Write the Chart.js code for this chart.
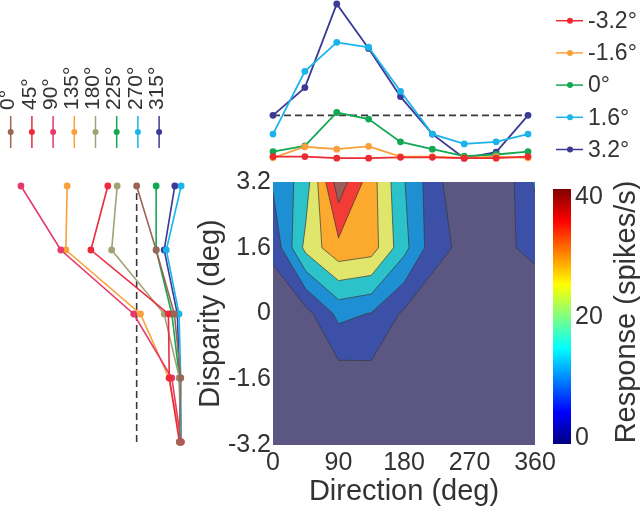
<!DOCTYPE html>
<html>
<head>
<meta charset="utf-8">
<script src="https://cdn.jsdelivr.net/npm/chart.js@4"></script>
<style>
  body { margin: 0; background: #fff; }
  #wrap { position: relative; width: 640px; height: 509px; overflow: hidden; }
  canvas { position: absolute; }
</style>
</head>
<body>
<div id="wrap">
  <canvas id="left" width="195" height="460" style="left:0px;top:0px"></canvas>
  <canvas id="top" width="380" height="170" style="left:260px;top:0px"></canvas>
  <canvas id="map" width="385" height="349" style="left:190px;top:160px"></canvas>
  <canvas id="cbar" width="100" height="300" style="left:540px;top:170px"></canvas>
</div>
<script>
// stimulus grid
const directions = [0, 45, 90, 135, 180, 225, 270, 315, 360];
const disparities = [-3.2, -1.6, 0, 1.6, 3.2];

// response (spikes/s) per disparity, one value per direction (360 repeats 0)
const respDispNeg32 = [0.6, 0.6, 0.2, 0.2, 0.4, 0.4, 0.2, 0.2, 0.6];
const respDispNeg16 = [0.3, 3.0, 2.4, 3.1, 0.6, 0.6, 0.3, 0.6, 0.3];
const respDisp0 = [1.8, 3.2, 11.4, 9.8, 4.2, 2.4, 0.7, 1.1, 1.8];
const respDisp16 = [6.1, 21.5, 28.6, 27.4, 16.6, 6.1, 3.7, 4.2, 6.1];
const respDisp32 = [10.7, 17.5, 38.0, 27.1, 15.3, 6.1, 0.2, 1.7, 10.7];
const responseRows = [respDispNeg32, respDispNeg16, respDisp0, respDisp16, respDisp32];

const spontaneousRate = 10.7;

const dispLabels = ["-3.2°", "-1.6°", "0°", "1.6°", "3.2°"];
const dispColors = ["#ec2a30", "#f9a03a", "#12a853", "#1bb4ea", "#3b3a96"];
const dirLabels = ["0°", "45°", "90°", "135°", "180°", "225°", "270°", "315°"];
const dirColors = ["#9c6452", "#ec2a3c", "#e63a6c", "#f9a03a", "#a3a176", "#12a853", "#1bb4ea", "#3b3a96"];

const contourLevels = [5, 10, 15, 20, 25, 30, 35];
const bandColors = ["#5c5683", "#3b50a6", "#1f8fd3", "#2cc2c9", "#dfe66b", "#fbaa2e", "#f23c35", "#9b5f58"];

const dirTicks = [0, 90, 180, 270, 360];
const dispTicks = [-3.2, -1.6, 0, 1.6, 3.2];
const dispTickLabels = ["-3.2", "-1.6", "0", "1.6", "3.2"];
const colorbarTicks = [0, 20, 40];
const colorbarMin = -1.05;
const colorbarMax = 41.3;

const FONT = '"Liberation Sans", Arial, Helvetica, sans-serif';
const TEXT = "#333333";
Chart.defaults.font.family = FONT;
Chart.defaults.color = TEXT;

// part of a cell polygon where the response is at or above level
function clipAbove(poly, level) {
  const out = [];
  for (let i = 0; i < poly.length; i++) {
    const a = poly[i];
    const b = poly[(i + 1) % poly.length];
    if (a.v >= level) out.push(a);
    if ((a.v - level) * (b.v - level) < 0) {
      const t = (level - a.v) / (b.v - a.v);
      out.push({ x: a.x + t * (b.x - a.x), y: a.y + t * (b.y - a.y), v: level });
    }
  }
  return out;
}

function crossings(poly, level) {
  const pts = [];
  for (let i = 0; i < poly.length; i++) {
    const a = poly[i];
    const b = poly[(i + 1) % poly.length];
    if ((a.v - level) * (b.v - level) < 0) {
      const t = (level - a.v) / (b.v - a.v);
      pts.push({ x: a.x + t * (b.x - a.x), y: a.y + t * (b.y - a.y) });
    }
  }
  return pts;
}

function jet(t) {
  const c = (v) => Math.round(255 * Math.max(0, Math.min(1, v)));
  return `rgb(${c(1.5 - Math.abs(4 * t - 3))},${c(1.5 - Math.abs(4 * t - 2))},${c(1.5 - Math.abs(4 * t - 1))})`;
}

const contourPlugin = {
  id: "contourPlugin",
  beforeDatasetsDraw(chart) {
    const { ctx, chartArea, scales } = chart;
    const pt = (r, c) => ({
      x: scales.x.getPixelForValue(directions[c]),
      y: scales.y.getPixelForValue(disparities[r]),
      v: responseRows[r][c]
    });
    const cells = [];
    for (let r = 0; r < disparities.length - 1; r++) {
      for (let c = 0; c < directions.length - 1; c++) {
        cells.push([pt(r, c), pt(r, c + 1), pt(r + 1, c + 1), pt(r + 1, c)]);
      }
    }

    ctx.save();
    ctx.beginPath();
    ctx.rect(chartArea.left, chartArea.top, chartArea.width, chartArea.height);
    ctx.clip();
    ctx.fillStyle = bandColors[0];
    ctx.fillRect(chartArea.left, chartArea.top, chartArea.width, chartArea.height);

    contourLevels.forEach((level, k) => {
      ctx.beginPath();
      cells.forEach((cell) => {
        const poly = clipAbove(cell, level);
        if (poly.length < 3) return;
        ctx.moveTo(poly[0].x, poly[0].y);
        poly.slice(1).forEach((p) => ctx.lineTo(p.x, p.y));
        ctx.closePath();
      });
      ctx.fillStyle = bandColors[k + 1];
      ctx.fill();
    });

    ctx.strokeStyle = "#3a3a3a";
    ctx.lineWidth = 0.7;
    contourLevels.forEach((level) => {
      ctx.beginPath();
      cells.forEach((cell) => {
        const pts = crossings(cell, level);
        for (let i = 0; i + 1 < pts.length; i += 2) {
          ctx.moveTo(pts[i].x, pts[i].y);
          ctx.lineTo(pts[i + 1].x, pts[i + 1].y);
        }
      });
      ctx.stroke();
    });
    ctx.restore();
  }
};

const sideLegendPlugin = {
  id: "sideLegend",
  afterDraw(chart, args, opts) {
    const { ctx } = chart;
    ctx.save();
    ctx.font = `23px ${FONT}`;
    ctx.textBaseline = "middle";
    ctx.textAlign = "left";
    opts.labels.forEach((text, i) => {
      const y = opts.y0 + opts.step * i;
      ctx.strokeStyle = opts.colors[i];
      ctx.lineWidth = 1.5;
      ctx.beginPath();
      ctx.moveTo(opts.x0, y);
      ctx.lineTo(opts.x0 + 27, y);
      ctx.stroke();
      ctx.fillStyle = opts.colors[i];
      ctx.beginPath();
      ctx.arc(opts.x0 + 14, y, 3, 0, Math.PI * 2);
      ctx.fill();
      ctx.fillStyle = TEXT;
      ctx.fillText(text, opts.x0 + 32, y + 1);
    });
    ctx.restore();
  }
};

const topLegendPlugin = {
  id: "topLegend",
  afterDraw(chart, args, opts) {
    const { ctx } = chart;
    ctx.save();
    ctx.font = `21px ${FONT}`;
    ctx.textBaseline = "middle";
    ctx.textAlign = "left";
    opts.labels.forEach((text, i) => {
      const x = opts.x0 + opts.step * i;
      ctx.strokeStyle = opts.colors[i];
      ctx.lineWidth = 1.5;
      ctx.beginPath();
      ctx.moveTo(x, opts.y0);
      ctx.lineTo(x, opts.y0 + 32);
      ctx.stroke();
      ctx.fillStyle = opts.colors[i];
      ctx.beginPath();
      ctx.arc(x, opts.y0 + 16, 3, 0, Math.PI * 2);
      ctx.fill();
      ctx.save();
      ctx.translate(x - 2, opts.y0 - 6);
      ctx.rotate(-Math.PI / 2);
      ctx.fillStyle = TEXT;
      ctx.fillText(text, 0, 0);
      ctx.restore();
    });
    ctx.restore();
  }
};

const colorbarPlugin = {
  id: "colorbarPlugin",
  beforeDatasetsDraw(chart) {
    const { ctx, chartArea, scales } = chart;
    const y0 = scales.y.getPixelForValue(colorbarMin);
    const y1 = scales.y.getPixelForValue(colorbarMax);
    const grad = ctx.createLinearGradient(0, y0, 0, y1);
    for (let i = 0; i <= 32; i++) {
      grad.addColorStop(i / 32, jet(i / 32));
    }
    ctx.save();
    ctx.fillStyle = grad;
    ctx.fillRect(chartArea.left, chartArea.top, chartArea.width, chartArea.height);
    ctx.translate(87, 142);
    ctx.rotate(-Math.PI / 2);
    ctx.font = `29px ${FONT}`;
    ctx.fillStyle = TEXT;
    ctx.textAlign = "center";
    ctx.textBaseline = "middle";
    ctx.fillText("Response (spikes/s)", 0, 0);
    ctx.restore();
  }
};

const baseOptions = {
  responsive: false,
  animation: false,
  events: [],
  plugins: { legend: { display: false }, tooltip: { enabled: false } }
};

// disparity tuning curves, one per direction (response axis runs leftward)
new Chart(document.getElementById("left"), {
  type: "line",
  data: {
    datasets: [
      ...dirLabels.map((label, d) => ({
        label,
        data: disparities.map((disp, k) => ({ x: responseRows[k][d], y: disp })),
        borderColor: dirColors[d],
        backgroundColor: dirColors[d],
        borderWidth: 1.6,
        pointRadius: 3.4,
        pointBorderWidth: 0,
        clip: false
      })),
      {
        label: "spontaneous",
        data: [{ x: spontaneousRate, y: disparities[0] }, { x: spontaneousRate, y: disparities[disparities.length - 1] }],
        borderColor: "#3a3a3a",
        borderWidth: 1.6,
        borderDash: [7, 4],
        pointRadius: 0,
        clip: false
      }
    ]
  },
  options: {
    ...baseOptions,
    layout: { padding: { left: 18, right: 13, top: 186, bottom: 18 } },
    plugins: {
      ...baseOptions.plugins,
      topLegend: { labels: dirLabels, colors: dirColors, x0: 10.7, step: 21.2, y0: 116 }
    },
    scales: {
      x: { type: "linear", min: 0, max: 38.7, reverse: true, display: false },
      y: { type: "linear", min: -3.2, max: 3.2, display: false }
    }
  },
  plugins: [topLegendPlugin]
});

// direction tuning curves, one per disparity
new Chart(document.getElementById("top"), {
  type: "line",
  data: {
    datasets: [
      ...dispLabels.map((label, k) => ({
        label,
        data: directions.map((dir, i) => ({ x: dir, y: responseRows[k][i] })),
        borderColor: dispColors[k],
        backgroundColor: dispColors[k],
        borderWidth: 1.8,
        pointRadius: 3.4,
        pointBorderWidth: 0,
        clip: false
      })),
      {
        label: "spontaneous",
        data: [{ x: directions[0], y: spontaneousRate }, { x: directions[directions.length - 1], y: spontaneousRate }],
        borderColor: "#3a3a3a",
        borderWidth: 1.6,
        borderDash: [7, 4],
        pointRadius: 0,
        clip: false
      }
    ]
  },
  options: {
    ...baseOptions,
    layout: { padding: { left: 13, right: 112, top: 3, bottom: 11 } },
    plugins: {
      ...baseOptions.plugins,
      sideLegend: { labels: dispLabels, colors: dispColors, x0: 296, y0: 20.7, step: 32.2 }
    },
    scales: {
      x: { type: "linear", min: 0, max: 360, display: false },
      y: { type: "linear", min: 0, max: 38, display: false }
    }
  },
  plugins: [sideLegendPlugin]
});

// filled contour map
new Chart(document.getElementById("map"), {
  type: "scatter",
  data: { datasets: [] },
  options: {
    ...baseOptions,
    layout: { padding: { left: 0, right: 40, top: 22, bottom: 0 } },
    scales: {
      x: {
        type: "linear",
        min: 0,
        max: 360,
        afterBuildTicks: (s) => { s.ticks = dirTicks.map((v) => ({ value: v })); },
        afterFit: (s) => { s.height = 64; },
        ticks: { font: { size: 25 }, color: TEXT, padding: 3, maxRotation: 0, autoSkip: false },
        grid: { display: false, drawTicks: false },
        border: { display: false },
        title: { display: true, text: "Direction (deg)", font: { size: 29 }, color: TEXT, padding: { top: 0, bottom: 0 } }
      },
      y: {
        type: "linear",
        min: -3.2,
        max: 3.2,
        afterBuildTicks: (s) => { s.ticks = dispTicks.map((v) => ({ value: v })); },
        afterFit: (s) => { s.width = 83; },
        ticks: {
          font: { size: 25 },
          color: TEXT,
          padding: 2,
          autoSkip: false,
          callback: (value) => dispTickLabels[dispTicks.indexOf(value)]
        },
        grid: { display: false, drawTicks: false },
        border: { display: false },
        title: { display: true, text: "Disparity (deg)", font: { size: 29 }, color: TEXT, padding: { top: 4, bottom: 0 } }
      }
    }
  },
  plugins: [contourPlugin]
});

// colour bar
new Chart(document.getElementById("cbar"), {
  type: "scatter",
  data: { datasets: [] },
  options: {
    ...baseOptions,
    layout: { padding: { left: 13, right: 0, top: 12, bottom: 26 } },
    scales: {
      x: { type: "linear", display: false, min: 0, max: 1 },
      y: {
        type: "linear",
        position: "right",
        min: colorbarMin,
        max: colorbarMax,
        afterBuildTicks: (s) => { s.ticks = colorbarTicks.map((v) => ({ value: v })); },
        afterFit: (s) => { s.width = 69; },
        ticks: { font: { size: 25 }, color: TEXT, padding: 4 },
        grid: { display: false, drawTicks: false },
        border: { display: false }
      }
    }
  },
  plugins: [colorbarPlugin]
});
</script>
</body>
</html>
